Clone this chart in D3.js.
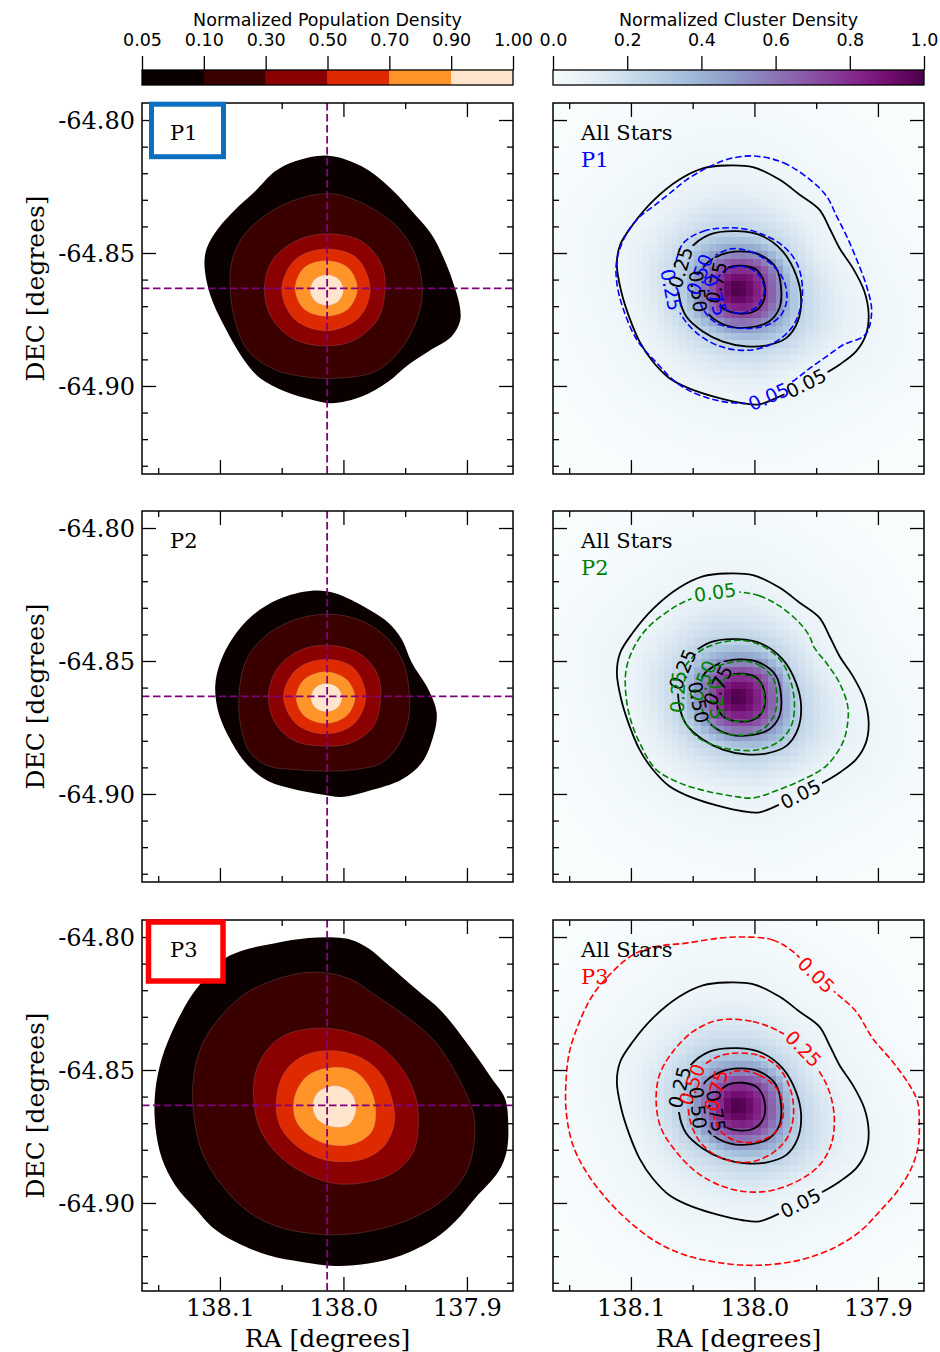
<!DOCTYPE html>
<html>
<head>
<meta charset="utf-8">
<title>Population and cluster density maps</title>
<script src="https://cdn.jsdelivr.net/npm/d3@7/dist/d3.min.js"></script>
<style>
  html, body { margin: 0; padding: 0; background: #ffffff; }
  svg { display: block; }
</style>
</head>
<body>
<svg id="figure" width="940" height="1352" xmlns="http://www.w3.org/2000/svg"></svg>
<script>
// ---------------- axis ticks ----------------
const raTicks = [138.1, 138.0, 137.9];
const raMinorTicks = [138.15, 138.05, 137.95];
const decTicks = [-64.80, -64.85, -64.90];
const decMinorTicks = [-64.81, -64.82, -64.83, -64.84, -64.86, -64.87, -64.88, -64.89, -64.91, -64.92, -64.93];

// ---------------- colour bars ----------------
const popLevels = [0.05, 0.10, 0.30, 0.50, 0.70, 0.90, 1.00];
const popColors = ["#0a0000", "#3a0000", "#8b0000", "#dd2a00", "#ff9429", "#ffe5cc"];
const clusterTicks = [0.0, 0.2, 0.4, 0.6, 0.8, 1.0];

// ---------------- populations ----------------
const populations = ["P1", "P2", "P3"];
const populationColors = ["#0000ff", "#008000", "#ff0000"];
const contourLevels = [0.05, 0.25, 0.50, 0.75];

// cluster centre (crosshair) and peak of the all-star density [RA, DEC]
const clusterCentre = [138.0132, -64.8633];
const densityPeak = [138.0148, -64.8638];

// ---------------- filled population density contours [RA, DEC] ----------------
// one ring per level boundary: 0.05, 0.10, 0.30, 0.50, 0.70, 0.90
const p1Density = [
  [[138.0121,-64.8134],[137.9852,-64.8174],[137.9636,-64.8249],[137.9420,-64.8356],[137.9285,-64.8431],[137.9177,-64.8531],[137.9097,-64.8632],[137.9056,-64.8707],[137.9056,-64.8757],[137.9124,-64.8814],[137.9312,-64.8870],[137.9474,-64.8920],[137.9636,-64.8983],[137.9852,-64.9040],[138.0094,-64.9065],[138.0256,-64.9052],[138.0472,-64.9021],[138.0674,-64.8971],[138.0796,-64.8908],[138.0957,-64.8782],[138.1079,-64.8657],[138.1125,-64.8544],[138.1106,-64.8481],[138.1011,-64.8406],[138.0877,-64.8337],[138.0715,-64.8268],[138.0553,-64.8193],[138.0391,-64.8155]],
  [[138.0094,-64.8277],[137.9798,-64.8324],[137.9555,-64.8406],[137.9420,-64.8506],[137.9361,-64.8632],[137.9393,-64.8732],[137.9528,-64.8858],[137.9744,-64.8946],[138.0067,-64.8971],[138.0337,-64.8964],[138.0553,-64.8939],[138.0769,-64.8870],[138.0877,-64.8757],[138.0917,-64.8632],[138.0903,-64.8531],[138.0823,-64.8444],[138.0661,-64.8368],[138.0418,-64.8305]],
  [[138.0135,-64.8428],[137.9852,-64.8456],[137.9690,-64.8544],[137.9663,-64.8632],[137.9717,-64.8745],[137.9906,-64.8826],[138.0121,-64.8849],[138.0391,-64.8826],[138.0580,-64.8745],[138.0639,-64.8638],[138.0580,-64.8531],[138.0391,-64.8456]],
  [[138.0143,-64.8485],[137.9892,-64.8519],[137.9784,-64.8638],[137.9879,-64.8745],[138.0135,-64.8792],[138.0391,-64.8751],[138.0499,-64.8638],[138.0391,-64.8525]],
  [[138.0140,-64.8529],[137.9960,-64.8556],[137.9887,-64.8633],[137.9960,-64.8710],[138.0140,-64.8738],[138.0321,-64.8710],[138.0391,-64.8633],[138.0321,-64.8556]],
  [[138.0135,-64.8582],[138.0040,-64.8598],[138.0000,-64.8639],[138.0040,-64.8681],[138.0135,-64.8697],[138.0229,-64.8681],[138.0270,-64.8639],[138.0229,-64.8598]]
];
const p2Density = [
  [[138.0256,-64.8236],[138.0067,-64.8245],[137.9798,-64.8305],[137.9636,-64.8356],[137.9528,-64.8418],[137.9447,-64.8506],[137.9312,-64.8607],[137.9245,-64.8695],[137.9272,-64.8782],[137.9366,-64.8883],[137.9528,-64.8946],[137.9798,-64.8989],[138.0013,-64.9011],[138.0175,-64.9002],[138.0391,-64.8983],[138.0607,-64.8952],[138.0769,-64.8895],[138.0903,-64.8807],[138.1011,-64.8695],[138.1038,-64.8594],[138.0998,-64.8506],[138.0903,-64.8418],[138.0742,-64.8331],[138.0526,-64.8268]],
  [[138.0121,-64.8324],[137.9852,-64.8349],[137.9636,-64.8418],[137.9515,-64.8506],[137.9469,-64.8607],[137.9469,-64.8707],[137.9542,-64.8807],[137.9690,-64.8883],[137.9906,-64.8908],[138.0121,-64.8914],[138.0391,-64.8908],[138.0607,-64.8895],[138.0755,-64.8845],[138.0836,-64.8732],[138.0844,-64.8619],[138.0796,-64.8506],[138.0661,-64.8418],[138.0418,-64.8349]],
  [[138.0135,-64.8441],[137.9879,-64.8469],[137.9730,-64.8544],[137.9698,-64.8632],[137.9757,-64.8745],[137.9933,-64.8807],[138.0148,-64.8820],[138.0391,-64.8801],[138.0553,-64.8732],[138.0607,-64.8632],[138.0539,-64.8531],[138.0364,-64.8462]],
  [[138.0148,-64.8494],[137.9919,-64.8525],[137.9819,-64.8634],[137.9919,-64.8738],[138.0148,-64.8774],[138.0378,-64.8738],[138.0485,-64.8634],[138.0378,-64.8531]],
  [[138.0146,-64.8540],[137.9976,-64.8569],[137.9906,-64.8638],[137.9976,-64.8707],[138.0146,-64.8735],[138.0316,-64.8707],[138.0383,-64.8638],[138.0316,-64.8569]],
  [[138.0138,-64.8585],[138.0049,-64.8600],[138.0011,-64.8638],[138.0049,-64.8676],[138.0138,-64.8691],[138.0227,-64.8676],[138.0264,-64.8638],[138.0227,-64.8600]]
];
const p3Density = [
  [[138.0067,-64.8002],[137.9933,-64.8011],[137.9798,-64.8042],[137.9636,-64.8105],[137.9420,-64.8193],[137.9204,-64.8280],[137.8989,-64.8406],[137.8800,-64.8531],[137.8692,-64.8607],[137.8665,-64.8707],[137.8679,-64.8807],[137.8746,-64.8883],[137.8935,-64.8983],[137.9097,-64.9071],[137.9258,-64.9134],[137.9528,-64.9197],[137.9798,-64.9228],[138.0067,-64.9237],[138.0337,-64.9222],[138.0607,-64.9197],[138.0877,-64.9146],[138.1065,-64.9090],[138.1200,-64.9021],[138.1362,-64.8933],[138.1470,-64.8833],[138.1524,-64.8707],[138.1524,-64.8582],[138.1470,-64.8456],[138.1362,-64.8331],[138.1227,-64.8218],[138.1092,-64.8142],[138.0957,-64.8080],[138.0796,-64.8048],[138.0553,-64.8023],[138.0283,-64.8004]],
  [[138.0229,-64.8132],[138.0472,-64.8149],[138.0769,-64.8205],[138.0984,-64.8293],[138.1146,-64.8406],[138.1214,-64.8531],[138.1214,-64.8657],[138.1146,-64.8807],[138.0984,-64.8933],[138.0769,-64.9033],[138.0526,-64.9090],[138.0256,-64.9115],[138.0013,-64.9119],[137.9744,-64.9102],[137.9447,-64.9058],[137.9177,-64.8983],[137.9016,-64.8895],[137.8948,-64.8795],[137.8940,-64.8682],[137.8989,-64.8607],[137.9097,-64.8506],[137.9258,-64.8393],[137.9474,-64.8305],[137.9744,-64.8218],[137.9960,-64.8155]],
  [[138.0216,-64.8343],[138.0472,-64.8368],[138.0607,-64.8418],[138.0701,-64.8494],[138.0728,-64.8582],[138.0688,-64.8707],[138.0553,-64.8807],[138.0337,-64.8883],[138.0067,-64.8927],[137.9798,-64.8920],[137.9582,-64.8883],[137.9434,-64.8807],[137.9393,-64.8695],[137.9420,-64.8594],[137.9528,-64.8494],[137.9717,-64.8406],[137.9960,-64.8356]],
  [[138.0067,-64.8428],[138.0310,-64.8444],[138.0472,-64.8506],[138.0539,-64.8594],[138.0526,-64.8695],[138.0418,-64.8770],[138.0229,-64.8826],[138.0040,-64.8845],[137.9825,-64.8833],[137.9663,-64.8782],[137.9587,-64.8695],[137.9609,-64.8607],[137.9690,-64.8519],[137.9825,-64.8462]],
  [[138.0067,-64.8490],[138.0283,-64.8519],[138.0391,-64.8594],[138.0391,-64.8682],[138.0283,-64.8745],[138.0094,-64.8782],[137.9906,-64.8776],[137.9771,-64.8732],[137.9738,-64.8657],[137.9784,-64.8569],[137.9906,-64.8506]],
  [[138.0081,-64.8559],[138.0202,-64.8582],[138.0248,-64.8626],[138.0216,-64.8682],[138.0094,-64.8713],[137.9960,-64.8707],[137.9900,-64.8657],[137.9919,-64.8600],[137.9987,-64.8569]]
];

// ---------------- cluster density contour lines [RA, DEC], levels 0.05, 0.25, 0.50, 0.75 ----------------
const allStarsContours = [
  [[138.0229,-64.8171],[138.0013,-64.8177],[137.9798,-64.8224],[137.9636,-64.8280],[137.9474,-64.8337],[137.9393,-64.8406],[137.9312,-64.8481],[137.9204,-64.8556],[137.9110,-64.8644],[137.9075,-64.8732],[137.9097,-64.8807],[137.9177,-64.8870],[137.9312,-64.8920],[137.9447,-64.8958],[137.9609,-64.8996],[137.9798,-64.9040],[137.9960,-64.9069],[138.0094,-64.9065],[138.0283,-64.9046],[138.0499,-64.9015],[138.0688,-64.8971],[138.0823,-64.8908],[138.0930,-64.8833],[138.1011,-64.8745],[138.1079,-64.8644],[138.1114,-64.8544],[138.1087,-64.8469],[138.0984,-64.8393],[138.0823,-64.8305],[138.0607,-64.8224],[138.0418,-64.8182]],
  [[138.0135,-64.8418],[137.9933,-64.8437],[137.9771,-64.8494],[137.9663,-64.8582],[137.9622,-64.8669],[137.9649,-64.8757],[137.9744,-64.8820],[137.9906,-64.8848],[138.0067,-64.8851],[138.0256,-64.8833],[138.0418,-64.8795],[138.0553,-64.8738],[138.0612,-64.8657],[138.0607,-64.8569],[138.0526,-64.8487],[138.0364,-64.8431]],
  [[138.0121,-64.8494],[137.9960,-64.8506],[137.9825,-64.8556],[137.9784,-64.8632],[137.9798,-64.8707],[137.9879,-64.8757],[138.0040,-64.8780],[138.0202,-64.8776],[138.0337,-64.8745],[138.0418,-64.8701],[138.0458,-64.8632],[138.0418,-64.8556],[138.0283,-64.8509]],
  [[138.0094,-64.8548],[137.9973,-64.8567],[137.9914,-64.8632],[137.9933,-64.8688],[138.0013,-64.8722],[138.0148,-64.8726],[138.0256,-64.8707],[138.0310,-64.8657],[138.0297,-64.8594],[138.0216,-64.8556]]
];
const p1Contours = [
  [[137.9981,-64.8136],[137.9765,-64.8161],[137.9550,-64.8224],[137.9415,-64.8287],[137.9334,-64.8362],[137.9253,-64.8437],[137.9172,-64.8525],[137.9091,-64.8626],[137.9051,-64.8713],[137.9078,-64.8789],[137.9118,-64.8814],[137.9280,-64.8845],[137.9415,-64.8889],[137.9550,-64.8933],[137.9690,-64.8983],[137.9852,-64.9033],[138.0089,-64.9065],[138.0413,-64.9040],[138.0628,-64.8989],[138.0790,-64.8914],[138.0952,-64.8826],[138.1060,-64.8713],[138.1114,-64.8613],[138.1114,-64.8525],[138.1033,-64.8425],[138.0925,-64.8362],[138.0817,-64.8324],[138.0682,-64.8274],[138.0547,-64.8224],[138.0359,-64.8174],[138.0170,-64.8142]],
  [[138.0574,-64.8462],[138.0413,-64.8418],[138.0143,-64.8406],[137.9927,-64.8431],[137.9765,-64.8475],[137.9657,-64.8538],[137.9612,-64.8626],[137.9631,-64.8713],[137.9711,-64.8789],[137.9873,-64.8845],[138.0062,-64.8866],[138.0278,-64.8851],[138.0467,-64.8801],[138.0601,-64.8726],[138.0682,-64.8613],[138.0628,-64.8519]],
  [[138.0197,-64.8485],[138.0035,-64.8494],[137.9873,-64.8538],[137.9765,-64.8600],[137.9738,-64.8676],[137.9792,-64.8738],[137.9927,-64.8776],[138.0143,-64.8782],[138.0305,-64.8764],[138.0413,-64.8713],[138.0467,-64.8632],[138.0391,-64.8538]],
  [[138.0121,-64.8550],[137.9978,-64.8575],[137.9919,-64.8638],[137.9978,-64.8701],[138.0121,-64.8726],[138.0264,-64.8701],[138.0324,-64.8638],[138.0264,-64.8575]]
];
const p2Contours = [
  [[138.0135,-64.8240],[137.9960,-64.8255],[137.9798,-64.8293],[137.9636,-64.8356],[137.9555,-64.8406],[137.9515,-64.8450],[137.9420,-64.8506],[137.9312,-64.8582],[137.9245,-64.8669],[137.9245,-64.8732],[137.9285,-64.8807],[137.9420,-64.8895],[137.9609,-64.8946],[137.9798,-64.8983],[138.0013,-64.9015],[138.0175,-64.9008],[138.0391,-64.8989],[138.0607,-64.8958],[138.0796,-64.8908],[138.0930,-64.8807],[138.1011,-64.8707],[138.1044,-64.8607],[138.1038,-64.8531],[138.0984,-64.8456],[138.0877,-64.8381],[138.0715,-64.8318],[138.0553,-64.8274],[138.0337,-64.8243]],
  [[138.0135,-64.8422],[137.9933,-64.8444],[137.9784,-64.8500],[137.9703,-64.8582],[137.9676,-64.8669],[137.9703,-64.8745],[137.9798,-64.8801],[137.9960,-64.8833],[138.0135,-64.8835],[138.0310,-64.8820],[138.0472,-64.8782],[138.0574,-64.8720],[138.0620,-64.8632],[138.0574,-64.8531],[138.0418,-64.8456]],
  [[138.0108,-64.8500],[137.9960,-64.8516],[137.9852,-64.8563],[137.9817,-64.8632],[137.9838,-64.8701],[137.9933,-64.8757],[138.0094,-64.8779],[138.0256,-64.8770],[138.0364,-64.8732],[138.0432,-64.8669],[138.0440,-64.8607],[138.0364,-64.8538]],
  [[138.0094,-64.8550],[137.9968,-64.8575],[137.9919,-64.8638],[137.9946,-64.8695],[138.0040,-64.8722],[138.0162,-64.8726],[138.0256,-64.8707],[138.0305,-64.8657],[138.0297,-64.8600],[138.0216,-64.8559]]
];
const p3Contours = [
  [[138.0067,-64.8000],[137.9852,-64.8011],[137.9690,-64.8054],[137.9515,-64.8136],[137.9339,-64.8211],[137.9177,-64.8280],[137.9043,-64.8381],[137.8881,-64.8469],[137.8746,-64.8556],[137.8679,-64.8619],[137.8665,-64.8695],[137.8673,-64.8782],[137.8719,-64.8858],[137.8827,-64.8946],[137.8989,-64.9033],[137.9150,-64.9109],[137.9366,-64.9171],[137.9636,-64.9215],[137.9960,-64.9234],[138.0229,-64.9228],[138.0553,-64.9197],[138.0796,-64.9146],[138.1011,-64.9071],[138.1200,-64.8983],[138.1362,-64.8883],[138.1470,-64.8782],[138.1524,-64.8657],[138.1524,-64.8531],[138.1497,-64.8431],[138.1416,-64.8318],[138.1308,-64.8218],[138.1173,-64.8142],[138.0984,-64.8067],[138.0796,-64.8036],[138.0553,-64.8023],[138.0283,-64.8004]],
  [[138.0216,-64.8309],[138.0013,-64.8318],[137.9825,-64.8349],[137.9609,-64.8418],[137.9474,-64.8506],[137.9393,-64.8582],[137.9353,-64.8682],[137.9380,-64.8782],[137.9474,-64.8858],[137.9636,-64.8914],[137.9852,-64.8952],[138.0067,-64.8958],[138.0283,-64.8933],[138.0472,-64.8883],[138.0634,-64.8807],[138.0755,-64.8720],[138.0796,-64.8619],[138.0769,-64.8519],[138.0661,-64.8431],[138.0499,-64.8356],[138.0337,-64.8318]],
  [[138.0175,-64.8437],[137.9960,-64.8446],[137.9798,-64.8494],[137.9703,-64.8582],[137.9684,-64.8669],[137.9730,-64.8751],[137.9838,-64.8807],[138.0000,-64.8843],[138.0162,-64.8845],[138.0324,-64.8818],[138.0450,-64.8764],[138.0521,-64.8688],[138.0531,-64.8600],[138.0445,-64.8500],[138.0324,-64.8456]],
  [[138.0148,-64.8504],[137.9960,-64.8519],[137.9811,-64.8575],[137.9765,-64.8657],[137.9811,-64.8726],[137.9960,-64.8767],[138.0121,-64.8770],[138.0256,-64.8738],[138.0324,-64.8682],[138.0324,-64.8607],[138.0270,-64.8538]]
];

// inline contour labels: which set ("all" stars or the population), level index, approximate [RA, DEC]
const p1Labels = [
  {set: "all", level: 0, at: [137.9590, -64.8977]},
  {set: "pop", level: 0, at: [137.9884, -64.9041]},
  {set: "all", level: 1, at: [138.0620, -64.8550]},
  {set: "pop", level: 1, at: [138.0682, -64.8638]},
  {set: "pop", level: 2, at: [138.0485, -64.8575]},
  {set: "all", level: 2, at: [138.0458, -64.8644]},
  {set: "all", level: 3, at: [138.0351, -64.8607]},
  {set: "pop", level: 3, at: [138.0324, -64.8660]}
];
const p2Labels = [
  {set: "all", level: 0, at: [137.9622, -64.9006]},
  {set: "pop", level: 0, at: [138.0324, -64.8233]},
  {set: "all", level: 1, at: [138.0607, -64.8525]},
  {set: "pop", level: 1, at: [138.0666, -64.8613]},
  {set: "pop", level: 2, at: [138.0450, -64.8569]},
  {set: "all", level: 2, at: [138.0472, -64.8657]},
  {set: "pop", level: 3, at: [138.0369, -64.8644]},
  {set: "all", level: 3, at: [138.0316, -64.8588]}
];
const p3Labels = [
  {set: "pop", level: 0, at: [137.9515, -64.8142]},
  {set: "all", level: 0, at: [137.9622, -64.9006]},
  {set: "pop", level: 1, at: [137.9609, -64.8425]},
  {set: "all", level: 1, at: [138.0639, -64.8563]},
  {set: "pop", level: 2, at: [138.0531, -64.8550]},
  {set: "all", level: 2, at: [138.0485, -64.8644]},
  {set: "pop", level: 3, at: [138.0364, -64.8569]},
  {set: "all", level: 3, at: [138.0359, -64.8657]}
];

const populationDensity = [p1Density, p2Density, p3Density];
const populationContours = [p1Contours, p2Contours, p3Contours];
const contourLabels = [p1Labels, p2Labels, p3Labels];

// ---------------- layout ----------------
const SERIF = "'DejaVu Serif', 'Liberation Serif', serif";
const SANS = "'DejaVu Sans', 'Liberation Sans', sans-serif";
const colLeft = [142, 553];
const rowTop = [103, 511, 920];
const panelSize = 371;
const raDomain = [138.1631, 137.8627];
const decDomain = [-64.9331, -64.7936];
const gridCells = 50;      // resolution of the density image
const tailReach = 2.0;     // density fades to zero at this multiple of the 0.05 contour radius
const tagBoxes = [
  {color: "#0b6fc1", x: 151.5, dy: 1.2, w: 72, h: 52.5, sw: 5},
  null,
  {color: "#ff0000", x: 148.5, dy: 2.0, w: 74.5, h: 59, sw: 5.5}
];

const svg = d3.select("#figure");
const defs = svg.append("defs");
const scratch = svg.append("g").attr("visibility", "hidden");
const smoothRing = d3.line().curve(d3.curveCatmullRomClosed.alpha(0.5));

function scalesFor(col, row) {
  return {
    x: d3.scaleLinear().domain(raDomain).range([colLeft[col], colLeft[col] + panelSize]),
    y: d3.scaleLinear().domain(decDomain).range([rowTop[row] + panelSize, rowTop[row]])
  };
}
function ringD(ring, x, y) { return smoothRing(ring.map(d => [x(d[0]), y(d[1])])); }
function sampleRing(d, n) {
  const p = scratch.append("path").attr("d", d).node();
  const L = p.getTotalLength();
  const pts = d3.range(n).map(i => { const q = p.getPointAtLength(L * i / n); return [q.x, q.y]; });
  p.remove();
  return pts;
}
function addClip(id, x, y) {
  defs.append("clipPath").attr("id", id).append("rect")
    .attr("x", x.range()[0]).attr("y", y.range()[1]).attr("width", panelSize).attr("height", panelSize);
  return `url(#${id})`;
}

function drawAxes(g, x, y, opts) {
  const [xl, xr] = x.range();
  const [yb, yt] = y.range();
  const none = () => "";
  const add = (axis, tx, ty) => {
    const a = g.append("g").attr("transform", `translate(${tx},${ty})`).call(axis);
    a.select(".domain").remove();
    a.selectAll("line").attr("stroke", "#000").attr("stroke-width", 1.3);
    a.selectAll("text").attr("font-family", SERIF).attr("font-size", 24).attr("fill", "#000");
    return a;
  };
  add(d3.axisBottom(x).tickValues(raTicks).tickSize(-14).tickPadding(8)
      .tickFormat(opts.xLabels ? d => d.toFixed(1) : none), 0, yb);
  add(d3.axisBottom(x).tickValues(raMinorTicks).tickSize(-6).tickFormat(none), 0, yb);
  add(d3.axisTop(x).tickValues(raTicks).tickSize(-14).tickFormat(none), 0, yt);
  add(d3.axisTop(x).tickValues(raMinorTicks).tickSize(-6).tickFormat(none), 0, yt);
  const left = add(d3.axisLeft(y).tickValues(decTicks).tickSize(-14).tickPadding(7)
      .tickFormat(opts.yLabels ? d => d.toFixed(2) : none), xl, 0);
  left.selectAll("text").attr("dy", "0.37em");
  add(d3.axisLeft(y).tickValues(decMinorTicks).tickSize(-6).tickFormat(none), xl, 0);
  add(d3.axisRight(y).tickValues(decTicks).tickSize(-14).tickFormat(none), xr, 0);
  add(d3.axisRight(y).tickValues(decMinorTicks).tickSize(-6).tickFormat(none), xr, 0);
  g.append("rect").attr("x", xl).attr("y", yt).attr("width", xr - xl).attr("height", yb - yt)
    .attr("fill", "none").attr("stroke", "#000").attr("stroke-width", 1.5);
}

// ---------------- left column: filled population density ----------------
function drawPopulationPanel(row) {
  const {x, y} = scalesFor(0, row);
  const g = svg.append("g");
  const body = g.append("g").attr("clip-path", addClip(`clip-pop-${row}`, x, y));
  body.append("rect").attr("x", x.range()[0]).attr("y", y.range()[1])
    .attr("width", panelSize).attr("height", panelSize).attr("fill", "#fff");
  body.selectAll("path.level").data(populationDensity[row]).join("path")
    .attr("class", "level")
    .attr("d", ring => ringD(ring, x, y))
    .attr("fill", (ring, k) => popColors[k])
    .attr("stroke", (ring, k) => k ? "#c89090" : "none")
    .attr("stroke-opacity", 0.35).attr("stroke-width", 0.7);
  const cx = x(clusterCentre[0]), cy = y(clusterCentre[1]);
  body.append("line").attr("x1", cx).attr("x2", cx).attr("y1", y.range()[1]).attr("y2", y.range()[0]);
  body.append("line").attr("x1", x.range()[0]).attr("x2", x.range()[1]).attr("y1", cy).attr("y2", cy);
  body.selectAll("line").attr("stroke", "#800080").attr("stroke-width", 1.8).attr("stroke-dasharray", "7.5,3.5");

  drawAxes(g, x, y, {xLabels: row === 2, yLabels: true});

  const box = tagBoxes[row];
  if (box) {
    g.append("rect").attr("x", box.x).attr("y", rowTop[row] + box.dy).attr("width", box.w).attr("height", box.h)
      .attr("fill", "#fff").attr("stroke", box.color).attr("stroke-width", box.sw);
  }
  g.append("text").attr("x", 170).attr("y", rowTop[row] + 37)
    .attr("font-family", SERIF).attr("font-size", 21).attr("fill", "#000").text(populations[row]);

  g.append("text").attr("transform", `translate(44,${rowTop[row] + panelSize / 2}) rotate(-90)`)
    .attr("text-anchor", "middle").attr("font-family", SERIF).attr("font-size", 25).attr("fill", "#000")
    .text("DEC [degrees]");
  if (row === 2) {
    g.append("text").attr("x", colLeft[0] + panelSize / 2).attr("y", 1347).attr("text-anchor", "middle")
      .attr("font-family", SERIF).attr("font-size", 25).attr("fill", "#000").text("RA [degrees]");
  }
}

// ---------------- right column: cluster density image with contours ----------------
function radialProfile(pts, c) {
  const polar = pts.map(p => ({a: Math.atan2(p[1] - c[1], p[0] - c[0]), r: Math.hypot(p[0] - c[0], p[1] - c[1])}))
    .sort((u, v) => u.a - v.a);
  const n = polar.length;
  const bis = d3.bisector(d => d.a).left;
  return theta => {
    const i = bis(polar, theta);
    const lo = i === 0 ? {a: polar[n - 1].a - 2 * Math.PI, r: polar[n - 1].r} : polar[i - 1];
    const hi = i === n ? {a: polar[0].a + 2 * Math.PI, r: polar[0].r} : polar[i];
    const t = hi.a === lo.a ? 0 : (theta - lo.a) / (hi.a - lo.a);
    return lo.r + t * (hi.r - lo.r);
  };
}
// monotone cubic (Fritsch–Carlson style) through the level knots; flat at the peak and in the tail
function monotoneAt(xs, ys, r) {
  const n = xs.length;
  if (r >= xs[n - 1]) return ys[n - 1];
  const d = d3.range(n - 1).map(k => (ys[k + 1] - ys[k]) / (xs[k + 1] - xs[k]));
  const m = d3.range(n).map(k => {
    if (k === 0 || k === n - 1) return 0;
    if (d[k - 1] * d[k] <= 0) return 0;
    return 2 / (1 / d[k - 1] + 1 / d[k]);
  });
  let k = 0;
  while (k < n - 2 && r > xs[k + 1]) k++;
  const h = xs[k + 1] - xs[k], t = (r - xs[k]) / h;
  const t2 = t * t, t3 = t2 * t;
  return (2 * t3 - 3 * t2 + 1) * ys[k] + (t3 - 2 * t2 + t) * h * m[k]
       + (-2 * t3 + 3 * t2) * ys[k + 1] + (t3 - t2) * h * m[k + 1];
}
function pinLabel(pts, a) {
  const i = d3.minIndex(pts, p => (p[0] - a[0]) ** 2 + (p[1] - a[1]) ** 2);
  const n = pts.length, p0 = pts[(i - 5 + n) % n], p1 = pts[(i + 5) % n];
  let angle = Math.atan2(p1[1] - p0[1], p1[0] - p0[0]) * 180 / Math.PI;
  if (angle > 90) angle -= 180;
  if (angle < -90) angle += 180;
  return {x: pts[i][0], y: pts[i][1], angle};
}

function drawClusterPanel(row) {
  const {x, y} = scalesFor(1, row);
  const g = svg.append("g");
  const body = g.append("g").attr("clip-path", addClip(`clip-cl-${row}`, x, y));

  // density image, sampled from the all-star contour levels along rays from the peak
  const peak = [x(densityPeak[0]), y(densityPeak[1])];
  const allSamples = allStarsContours.map(r => sampleRing(ringD(r, x, y), 360));
  const radial = allSamples.map(s => radialProfile(s, peak));
  const levelsOut = [1, ...contourLevels.slice().reverse(), 0];
  function density(px, py) {
    const th = Math.atan2(py - peak[1], px - peak[0]);
    const r = Math.hypot(px - peak[0], py - peak[1]);
    const R = radial.map(f => f(th));
    const radii = [0, R[3], R[2], R[1], R[0], R[0] * tailReach];
    for (let k = 1; k < radii.length; k++) radii[k] = Math.max(radii[k], radii[k - 1] + 0.5);
    return Math.max(0, Math.min(1, monotoneAt(radii, levelsOut, r)));
  }
  const raEdges = d3.range(gridCells + 1).map(i => raDomain[0] + (raDomain[1] - raDomain[0]) * i / gridCells);
  const decEdges = d3.range(gridCells + 1).map(j => decDomain[1] + (decDomain[0] - decDomain[1]) * j / gridCells);
  const cells = [];
  for (let i = 0; i < gridCells; i++) {
    for (let j = 0; j < gridCells; j++) {
      const x0 = x(raEdges[i]), x1 = x(raEdges[i + 1]), y0 = y(decEdges[j]), y1 = y(decEdges[j + 1]);
      cells.push({x0, x1, y0, y1, v: density((x0 + x1) / 2, (y0 + y1) / 2)});
    }
  }
  body.append("g").attr("shape-rendering", "crispEdges")
    .selectAll("rect").data(cells).join("rect")
    .attr("x", d => d.x0).attr("y", d => d.y0)
    .attr("width", d => d.x1 - d.x0 + 0.6).attr("height", d => d.y1 - d.y0 + 0.6)
    .attr("fill", d => d3.interpolateBuPu(d.v));

  const popSamples = populationContours[row].map(r => sampleRing(ringD(r, x, y), 360));
  const gAll = body.append("g");
  const gPop = body.append("g");
  const gLab = g.append("g");

  const holes = {all: [], pop: []};
  contourLabels[row].forEach(l => {
    const pts = (l.set === "all" ? allSamples : popSamples)[l.level];
    const spot = pinLabel(pts, [x(l.at[0]), y(l.at[1])]);
    const t = gLab.append("text")
      .attr("transform", `translate(${spot.x},${spot.y}) rotate(${spot.angle})`)
      .attr("text-anchor", "middle").attr("dy", "0.36em")
      .attr("font-family", SANS).attr("font-size", 19)
      .attr("fill", l.set === "all" ? "#000" : populationColors[row])
      .text(contourLevels[l.level].toFixed(2));
    holes[l.set].push({...spot, w: t.node().getComputedTextLength()});
  });
  ["all", "pop"].forEach(set => {
    const m = defs.append("mask").attr("id", `mask-${set}-${row}`).attr("maskUnits", "userSpaceOnUse")
      .attr("x", 0).attr("y", 0).attr("width", 940).attr("height", 1352);
    m.append("rect").attr("x", 0).attr("y", 0).attr("width", 940).attr("height", 1352).attr("fill", "#fff");
    holes[set].forEach(h => m.append("rect")
      .attr("x", -h.w / 2 - 3).attr("y", -8).attr("width", h.w + 6).attr("height", 16)
      .attr("transform", `translate(${h.x},${h.y}) rotate(${h.angle})`).attr("fill", "#000"));
  });

  gAll.attr("mask", `url(#mask-all-${row})`)
    .selectAll("path").data(allStarsContours).join("path")
    .attr("d", r => ringD(r, x, y)).attr("fill", "none").attr("stroke", "#000").attr("stroke-width", 1.8);
  gPop.attr("mask", `url(#mask-pop-${row})`)
    .selectAll("path").data(populationContours[row]).join("path")
    .attr("d", r => ringD(r, x, y)).attr("fill", "none").attr("stroke", populationColors[row])
    .attr("stroke-width", 1.6).attr("stroke-dasharray", "6.5,3");

  g.append("text").attr("x", 581).attr("y", rowTop[row] + 37)
    .attr("font-family", SERIF).attr("font-size", 21).attr("fill", "#000").text("All Stars");
  g.append("text").attr("x", 581).attr("y", rowTop[row] + 64)
    .attr("font-family", SERIF).attr("font-size", 21).attr("fill", populationColors[row]).text(populations[row]);

  drawAxes(g, x, y, {xLabels: row === 2, yLabels: false});
  if (row === 2) {
    g.append("text").attr("x", colLeft[1] + panelSize / 2).attr("y", 1347).attr("text-anchor", "middle")
      .attr("font-family", SERIF).attr("font-size", 25).attr("fill", "#000").text("RA [degrees]");
  }
}

// ---------------- colour bars ----------------
function styleBarAxis(a) {
  a.select(".domain").remove();
  a.selectAll("line").attr("stroke", "#000").attr("stroke-width", 1.3);
  a.selectAll("text").attr("font-family", SANS).attr("font-size", 17.5).attr("fill", "#000");
}
function drawColorbars() {
  const top = 70, h = 15;
  // population levels: equal-width discrete blocks
  const xs = d3.scaleLinear().domain([0, popLevels.length - 1]).range([colLeft[0], colLeft[0] + panelSize]);
  const g1 = svg.append("g");
  g1.selectAll("rect.blk").data(popColors).join("rect").attr("class", "blk")
    .attr("x", (c, k) => xs(k)).attr("y", top).attr("width", (c, k) => xs(k + 1) - xs(k) + 0.3).attr("height", h)
    .attr("fill", c => c);
  g1.append("rect").attr("x", xs(0)).attr("y", top).attr("width", panelSize).attr("height", h)
    .attr("fill", "none").attr("stroke", "#000").attr("stroke-width", 1.3);
  styleBarAxis(g1.append("g").attr("transform", `translate(0,${top})`)
    .call(d3.axisTop(xs).tickValues(d3.range(popLevels.length)).tickSize(14).tickPadding(10)
      .tickFormat(i => popLevels[i].toFixed(2))));
  g1.append("text").attr("x", colLeft[0] + panelSize / 2).attr("y", 26).attr("text-anchor", "middle")
    .attr("font-family", SANS).attr("font-size", 17.5).attr("fill", "#000").text("Normalized Population Density");

  // cluster density: continuous BuPu ramp
  const grad = defs.append("linearGradient").attr("id", "bupu").attr("x1", 0).attr("x2", 1).attr("y1", 0).attr("y2", 0);
  d3.range(0, 1.0001, 0.05).forEach(t => grad.append("stop").attr("offset", t).attr("stop-color", d3.interpolateBuPu(t)));
  const cs = d3.scaleLinear().domain([0, 1]).range([colLeft[1], colLeft[1] + panelSize]);
  const g2 = svg.append("g");
  g2.append("rect").attr("x", cs(0)).attr("y", top).attr("width", panelSize).attr("height", h)
    .attr("fill", "url(#bupu)").attr("stroke", "#000").attr("stroke-width", 1.3);
  styleBarAxis(g2.append("g").attr("transform", `translate(0,${top})`)
    .call(d3.axisTop(cs).tickValues(clusterTicks).tickSize(14).tickPadding(10).tickFormat(d => d.toFixed(1))));
  g2.append("text").attr("x", colLeft[1] + panelSize / 2).attr("y", 26).attr("text-anchor", "middle")
    .attr("font-family", SANS).attr("font-size", 17.5).attr("fill", "#000").text("Normalized Cluster Density");
}

drawColorbars();
[0, 1, 2].forEach(row => { drawPopulationPanel(row); drawClusterPanel(row); });
</script>
</body>
</html>
